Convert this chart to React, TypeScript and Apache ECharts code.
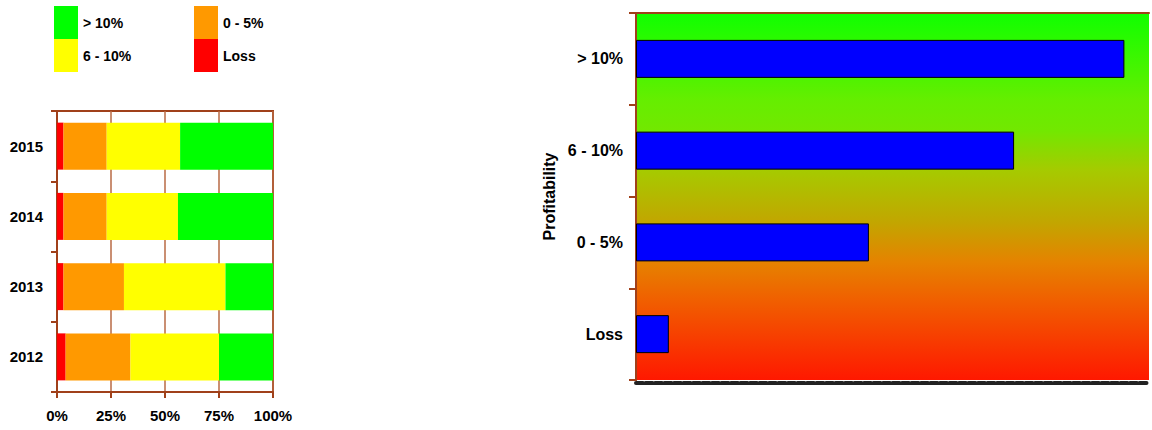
import React, { useEffect, useRef } from "react";
import * as echarts from "echarts";

const years = ["2012", "2013", "2014", "2015"];
const lossShare = [4, 3, 3, 3];
const lowShare = [30, 28, 20, 20];
const midShare = [41, 47, 33, 34];
const highShare = [25, 22, 44, 43];

const profitCategories = ["Loss", "0 - 5%", "6 - 10%", "> 10%"];
const profitValues = [6.4, 45.4, 73.7, 95.2];

const legendLeft = ["> 10%", "6 - 10%"];
const legendRight = ["0 - 5%", "Loss"];

const FONT = "Liberation Sans, Arial, sans-serif";
const BROWN = "#A0401A";

export default function App() {
  const ref = useRef<HTMLDivElement>(null);
  useEffect(() => {
    if (!ref.current) return;
    const chart = echarts.init(ref.current, null, { renderer: "svg" });
    const gradient = new echarts.graphic.LinearGradient(0, 0, 0, 1, [
      { offset: 0, color: "#10FF00" },
      { offset: 0.24, color: "#66EE00" },
      { offset: 0.32, color: "#72E800" },
      { offset: 0.43, color: "#A6CA00" },
      { offset: 0.57, color: "#C2A600" },
      { offset: 0.68, color: "#E68200" },
      { offset: 0.78, color: "#F06000" },
      { offset: 1, color: "#FF1800" },
    ]);
    const legendBase = {
      orient: "vertical",
      itemWidth: 24,
      itemHeight: 33,
      itemGap: 0,
      padding: 0,
      icon: "rect",
      selectedMode: false,
      textStyle: { fontWeight: "bold", fontSize: 14, color: "#000", fontFamily: FONT },
    };
    chart.setOption({
      animation: false,
      textStyle: { fontFamily: FONT },
      legend: [
        { ...legendBase, left: 54, top: 6, data: legendLeft },
        {
          ...legendBase,
          left: 194,
          top: 6,
          data: legendRight,
          textStyle: { ...legendBase.textStyle, padding: [0, 0, 7, 0] },
        },
      ],
      grid: [
        {
          left: 57,
          top: 111,
          width: 216,
          height: 281,
          show: true,
          borderColor: BROWN,
          borderWidth: 2,
          backgroundColor: "transparent",
        },
        {
          left: 636,
          top: 13,
          width: 513,
          height: 367,
          show: true,
          borderWidth: 0,
          backgroundColor: gradient,
        },
      ],
      xAxis: [
        {
          gridIndex: 0,
          type: "value",
          min: 0,
          max: 100,
          interval: 25,
          axisLine: { show: true, lineStyle: { color: BROWN, width: 2 } },
          axisTick: { show: true, length: 6, lineStyle: { color: BROWN, width: 2 } },
          axisLabel: {
            formatter: "{value}%",
            fontWeight: "bold",
            fontSize: 15,
            color: "#000",
            margin: 16,
            fontFamily: FONT,
          },
          splitLine: { show: true, lineStyle: { color: "#B86A45", width: 1.5 } },
        },
        {
          gridIndex: 1,
          type: "value",
          min: 0,
          max: 100,
          offset: 3,
          axisLine: { show: true, lineStyle: { color: "#222", width: 4, type: [7, 2.5] } },
          axisTick: { show: false },
          axisLabel: { show: false },
          splitLine: { show: false },
        },
        {
          gridIndex: 1,
          type: "value",
          position: "top",
          min: 0,
          max: 100,
          axisLine: { show: true, lineStyle: { color: BROWN, width: 2 } },
          axisTick: { show: false },
          axisLabel: { show: false },
          splitLine: { show: false },
        },
      ],
      yAxis: [
        {
          gridIndex: 0,
          type: "category",
          data: years,
          axisLine: { show: true, lineStyle: { color: BROWN, width: 2 } },
          axisTick: { show: true, length: 6, lineStyle: { color: BROWN, width: 2 } },
          axisLabel: { fontWeight: "bold", fontSize: 15, color: "#000", margin: 14, fontFamily: FONT },
        },
        {
          gridIndex: 1,
          type: "category",
          data: profitCategories,
          name: "Profitability",
          nameLocation: "middle",
          nameGap: 79,
          nameRotate: 90,
          nameTextStyle: { fontWeight: "bold", fontSize: 16, color: "#000", fontFamily: FONT },
          axisLine: { show: true, lineStyle: { color: BROWN, width: 2 } },
          axisTick: { show: true, length: 7, lineStyle: { color: BROWN, width: 2 } },
          axisLabel: { fontWeight: "bold", fontSize: 16, color: "#000", margin: 13, fontFamily: FONT },
        },
        {
          gridIndex: 1,
          type: "category",
          data: profitCategories,
          position: "right",
          axisLine: { show: true, lineStyle: { color: BROWN, width: 2 } },
          axisTick: { show: false },
          axisLabel: { show: false },
        },
      ],
      series: [
        { name: "Loss", type: "bar", stack: "share", xAxisIndex: 0, yAxisIndex: 0, barWidth: 47, data: lossShare, itemStyle: { color: "#FF0000" } },
        { name: "0 - 5%", type: "bar", stack: "share", xAxisIndex: 0, yAxisIndex: 0, barWidth: 47, data: lowShare, itemStyle: { color: "#FF9900" } },
        { name: "6 - 10%", type: "bar", stack: "share", xAxisIndex: 0, yAxisIndex: 0, barWidth: 47, data: midShare, itemStyle: { color: "#FFFF00" } },
        { name: "> 10%", type: "bar", stack: "share", xAxisIndex: 0, yAxisIndex: 0, barWidth: 47, data: highShare, itemStyle: { color: "#00FF00" } },
        {
          name: "Profitability",
          type: "bar",
          xAxisIndex: 1,
          yAxisIndex: 1,
          barWidth: 38,
          data: profitValues,
          itemStyle: { color: "#0000FF", borderColor: "#000", borderWidth: 1 },
        },
      ],
    });
    return () => chart.dispose();
  }, []);
  return (
    <div
      ref={ref}
      style={{ position: "fixed", left: 0, top: 0, width: 1152, height: 430, background: "#fff" }}
    />
  );
}
